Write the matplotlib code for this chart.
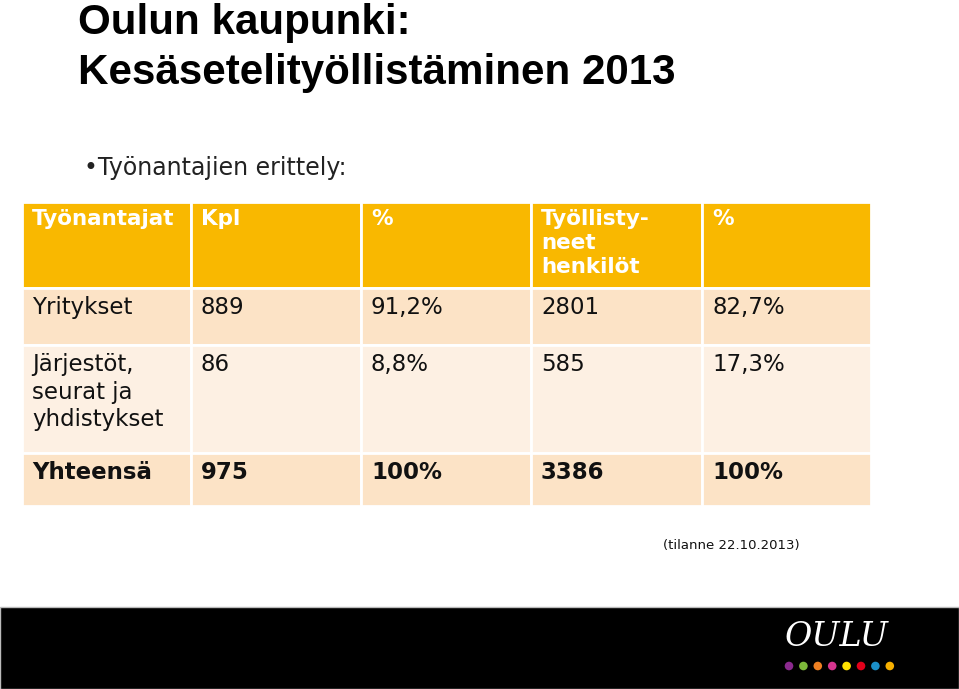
import matplotlib.pyplot as plt
from matplotlib.patches import Rectangle, Circle

# Taulukon tiedot
otsikot = ['Työnantajat', 'Kpl', '%', 'Työllisty-\nneet\nhenkilöt', '%']
ryhmat = ['Yritykset', 'Järjestöt,\nseurat ja\nyhdistykset', 'Yhteensä']
kpl = [889, 86, 975]
kpl_pros = ['91,2%', '8,8%', '100%']
henkilot = [2801, 585, 3386]
henkilot_pros = ['82,7%', '17,3%', '100%']
logo_varit = ['#8B2A8E', '#7DB83A', '#EE7F22', '#D6358F', '#FFE200', '#E2001A', '#1B8FC8', '#F7B000']

# Asettelu (pikseleinä)
sarakkeet = [22, 191, 361, 531, 702, 871]
rivit = [202, 288, 345, 453, 506]
rivi_varit = ['#F9B800', '#FCE3C6', '#FDF0E3', '#FCE3C6']

fig = plt.figure(figsize=(9.59, 6.89), dpi=100)
ax = fig.add_axes([0, 0, 1, 1])
ax.set_xlim(0, 959)
ax.set_ylim(689, 0)
ax.axis('off')

# Otsikko
fonttiotsikko = dict(family='Liberation Sans', fontweight='bold', fontsize=30.3, color='#000000')
ax.text(78, 34, 'Oulun kaupunki:', va='baseline', ha='left', **fonttiotsikko)
ax.text(78, 84, 'Kesäsetelityöllistäminen 2013', va='baseline', ha='left', **fonttiotsikko)

ax.text(84, 168, '•Työnantajien erittely:', va='center', ha='left',
        family='DejaVu Sans', fontsize=17, color='#222222')

# Solut
for r in range(4):
    for c in range(5):
        ax.add_patch(Rectangle((sarakkeet[c], rivit[r]),
                               sarakkeet[c + 1] - sarakkeet[c], rivit[r + 1] - rivit[r],
                               facecolor=rivi_varit[r], edgecolor='white', linewidth=2))

# Otsikkorivi
for c, teksti in enumerate(otsikot):
    ax.text(sarakkeet[c] + 10, rivit[0] + 7, teksti, va='top', ha='left',
            family='DejaVu Sans', fontweight='bold', fontsize=15.5, color='white',
            linespacing=1.25)

# Datarivit
for i in range(3):
    paino = 'bold' if i == 2 else 'normal'
    arvot = [ryhmat[i], str(kpl[i]), kpl_pros[i], str(henkilot[i]), henkilot_pros[i]]
    for c, teksti in enumerate(arvot):
        ax.text(sarakkeet[c] + 10, rivit[i + 1] + 8, teksti, va='top', ha='left',
                family='DejaVu Sans', fontweight=paino, fontsize=16.5, color='#111111',
                linespacing=1.25)

ax.text(663, 546, '(tilanne 22.10.2013)', va='center', ha='left',
        family='DejaVu Sans', fontsize=9.5, color='#111111')

# Alapalkki ja logo
ax.add_patch(Rectangle((0, 607), 959, 82, facecolor='black', edgecolor='#BBBBBB', linewidth=1))
ax.text(837, 637, 'OULU', va='center', ha='center', family='DejaVu Serif',
        fontstyle='italic', fontsize=24, color='white')
for i, vari in enumerate(logo_varit):
    ax.add_patch(Circle((789 + i * 14.4, 666), 4.3, facecolor=vari, edgecolor='none'))

fig.savefig('out.png', dpi=100)
